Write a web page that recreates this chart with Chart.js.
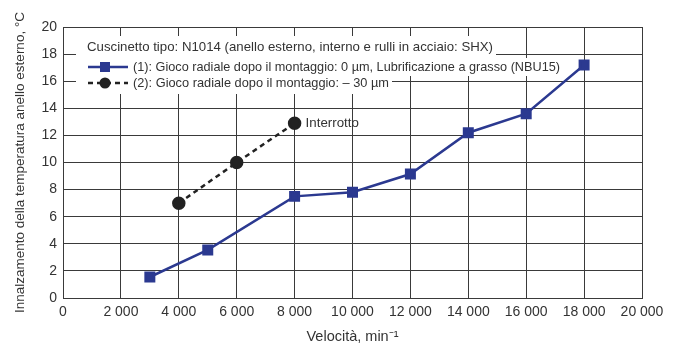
<!DOCTYPE html>
<html>
<head>
<meta charset="utf-8">
<script src="https://cdn.jsdelivr.net/npm/chart.js@4/dist/chart.umd.min.js"></script>
<style>
  body { margin: 0; background: #fff; }
  #wrap { width: 678px; height: 346px; }
</style>
</head>
<body>
<div id="wrap"><canvas id="chart" width="678" height="346"></canvas></div>
<script>
const speed1 = [3000, 5000, 8000, 10000, 12000, 14000, 16000, 18000];
const temp1 = [1.55, 3.55, 7.5, 7.8, 9.15, 12.2, 13.6, 17.2];
const speed2 = [4000, 6000, 8000];
const temp2 = [7, 10, 12.9];
const legendLines = [
    "Cuscinetto tipo: N1014 (anello esterno, interno e rulli in acciaio: SHX)",
    "(1): Gioco radiale dopo il montaggio: 0 µm, Lubrificazione a grasso (NBU15)",
    "(2): Gioco radiale dopo il montaggio: – 30 µm"
];
const stopLabel = "Interrotto";

const blue = "#2b3990";
const ink = "#333333";
const font = "'Liberation Sans', Arial, sans-serif";

function fmt(v) {
    return String(v).replace(/\B(?=(\d{3})+(?!\d))/g, " ");
}

const notes = {
    id: "notes",
    beforeDatasetsDraw(chart) {
        const ctx = chart.ctx;
        const xs = chart.scales.x, ys = chart.scales.y;
        ctx.save();
        ctx.font = "13.3px " + font;
        // white boxes behind the legend text
        const starts = [87, 133, 133];
        const maxW = [406, 427, 256];
        const tops = [36, 58, 76];
        const bottoms = [58, 76, 94];
        legendLines.forEach((t, i) => {
            const w = Math.min(ctx.measureText(t).width, maxW[i]);
            ctx.fillStyle = "#fff";
            ctx.fillRect(76, tops[i], starts[i] + w + 3 - 76, bottoms[i] - tops[i]);
        });
        const rows = [47, 67, 83];
        ctx.fillStyle = ink;
        ctx.textBaseline = "middle";
        legendLines.forEach((t, i) => ctx.fillText(t, starts[i], rows[i], maxW[i]));
        // sample series 1
        ctx.strokeStyle = blue;
        ctx.lineWidth = 2.5;
        ctx.beginPath(); ctx.moveTo(88, rows[1]); ctx.lineTo(128, rows[1]); ctx.stroke();
        ctx.fillStyle = blue;
        ctx.fillRect(100, rows[1] - 5, 10, 10);
        // sample series 2
        ctx.strokeStyle = "#222";
        ctx.setLineDash([5, 4]);
        ctx.beginPath(); ctx.moveTo(88, rows[2]); ctx.lineTo(128, rows[2]); ctx.stroke();
        ctx.setLineDash([]);
        ctx.fillStyle = "#222";
        ctx.beginPath(); ctx.arc(105, rows[2], 5.5, 0, Math.PI * 2); ctx.fill();
        // stop label
        ctx.fillStyle = ink;
        const px = xs.getPixelForValue(speed2[speed2.length - 1]);
        const py = ys.getPixelForValue(temp2[temp2.length - 1]);
        ctx.fillText(stopLabel, px + 11, py);
        ctx.restore();
    }
};

new Chart(document.getElementById("chart"), {
    type: "scatter",
    data: {
        datasets: [
            {
                data: speed1.map((x, i) => ({ x: x, y: temp1[i] })),
                showLine: true,
                borderColor: blue,
                backgroundColor: blue,
                borderWidth: 2.5,
                pointStyle: "rect",
                pointRadius: 6,
                pointHoverRadius: 6
            },
            {
                data: speed2.map((x, i) => ({ x: x, y: temp2[i] })),
                showLine: true,
                borderColor: "#222",
                backgroundColor: "#222",
                borderWidth: 2.5,
                borderDash: [5, 4],
                pointStyle: "circle",
                pointRadius: 5.5,
                pointHoverRadius: 5.5
            }
        ]
    },
    options: {
        responsive: false,
        animation: false,
        layout: { padding: { top: 27, right: 36, left: 0, bottom: 0 } },
        plugins: { legend: { display: false }, tooltip: { enabled: false } },
        scales: {
            x: {
                type: "linear",
                min: 0, max: 20000,
                afterFit: s => { s.height = 48; },
                ticks: { stepSize: 2000, color: ink, font: { family: font, size: 14 }, padding: 6, callback: v => fmt(v) },
                grid: { color: "#3a3a3a", drawTicks: false },
                border: { color: "#3a3a3a" },
                title: { display: true, text: "Velocità, min⁻¹", color: ink, font: { family: font, size: 14.5 }, padding: { top: 7, bottom: 0 } }
            },
            y: {
                min: 0, max: 20,
                afterFit: s => { s.width = 63; },
                ticks: { stepSize: 2, color: ink, font: { family: font, size: 14 }, padding: 6 },
                grid: { color: "#3a3a3a", drawTicks: false },
                border: { color: "#3a3a3a" },
                title: { display: true, text: "Innalzamento della temperatura anello esterno, °C", color: ink, font: { family: font, size: 13.5 }, padding: { top: 12, bottom: 0 } }
            }
        }
    },
    plugins: [notes]
});
</script>
</body>
</html>
